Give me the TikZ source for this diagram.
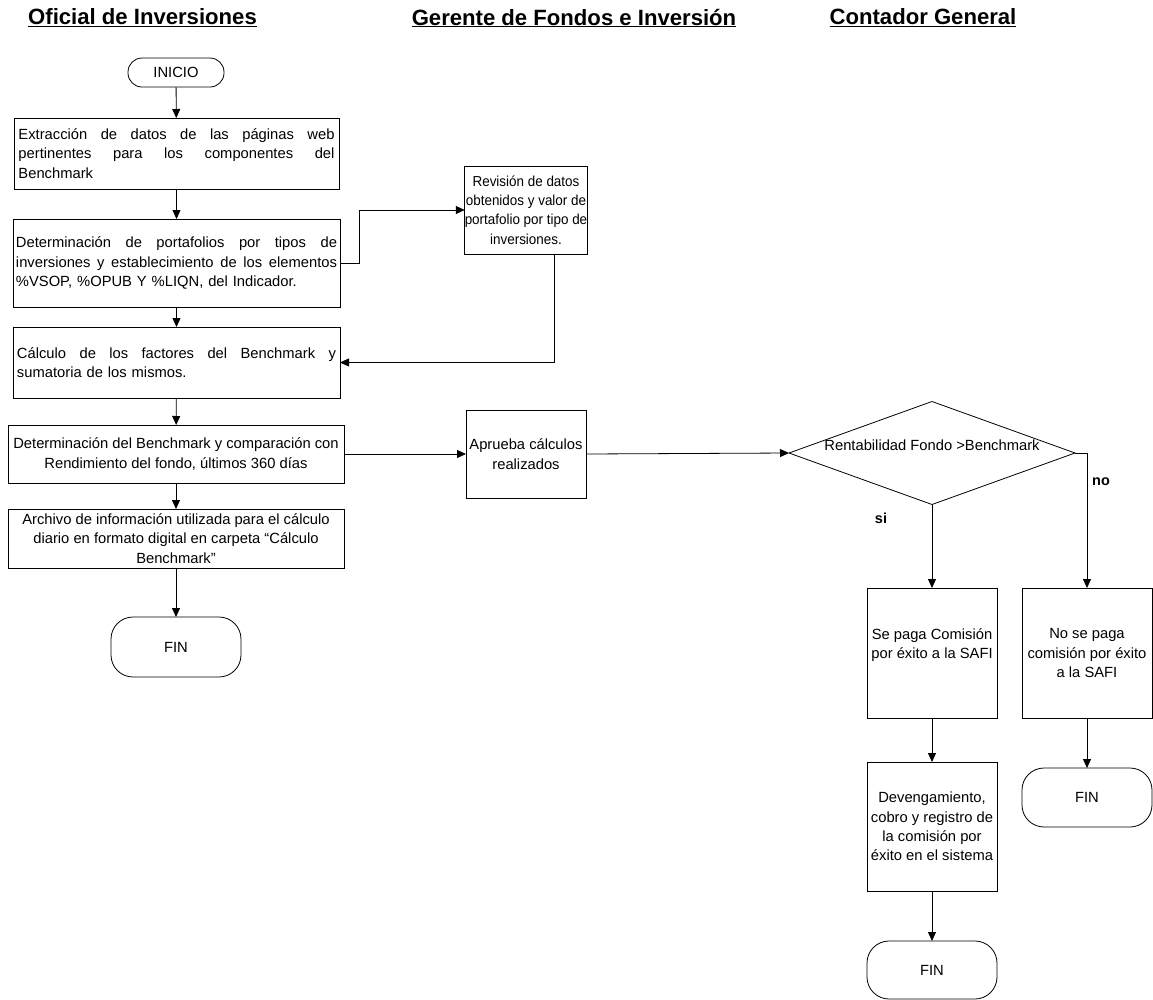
\documentclass[tikz,border=0pt]{standalone}
\usepackage{fontspec}
\setmainfont{Liberation Sans}
\newfontfamily\narrowfont[FakeStretch=0.93]{Liberation Sans}
\usetikzlibrary{arrows.meta,shapes.geometric}
\newcommand{\jl}[2]{\leavevmode\hbox to #1{#2}}
\begin{document}
\begin{tikzpicture}[x=1bp,y=-1bp,
  every node/.style={font=\fontsize{14.8}{19.5}\selectfont, inner sep=0pt, outer sep=0pt},
  title/.style={font=\fontsize{22.2}{24}\bfseries\selectfont},
  lbl/.style={font=\fontsize{14.5}{17}\bfseries\selectfont},
  box/.style={draw, line width=0.8bp, rectangle, align=center},
  term/.style={draw, line width=0.8bp, rectangle, rounded corners=#1},
  dia/.style={draw, line width=0.8bp, diamond},
  arr/.style={line width=0.8bp, -{Triangle[length=9bp,width=8bp]}},
  ln/.style={line width=0.8bp}
]
\useasboundingbox (0,0) rectangle (1153,1000);

% lane titles
\node[title] (t1) at (142.5,18) {\underline{Oficial de Inversiones}};
\node[title] (t2) at (574,18) {\underline{Gerente de Fondos e Inversión}};
\node[title] (t3) at (923,18) {\underline{Contador General}};

% left column
\node[term=14bp, minimum width=96bp, minimum height=29bp] (ini) at (176,72.5) {INICIO};
\node[box, minimum width=325bp, minimum height=71bp, text width=316bp, align=left] (b1) at (176.5,153.5)
  {\jl{316bp}{Extracción\hfill de\hfill datos\hfill de\hfill las\hfill páginas\hfill web}\\
   \jl{316bp}{pertinentes\hfill para\hfill los\hfill componentes\hfill del}\\ Benchmark};
\node[box, minimum width=327bp, minimum height=88bp, text width=321bp, align=left] (b2) at (176.5,263)
  {\jl{321bp}{Determinación\hfill de\hfill portafolios\hfill por\hfill tipos\hfill de}\\
   \jl{321bp}{inversiones\hfill y\hfill establecimiento\hfill de\hfill los\hfill elementos}\\
   \%VSOP, \%OPUB Y \%LIQN, del Indicador.};
\node[box, minimum width=327bp, minimum height=71bp, text width=319bp, align=left] (b3) at (176.5,362.5)
  {\jl{319bp}{Cálculo\hfill de\hfill los\hfill factores\hfill del\hfill Benchmark\hfill y}\\
   sumatoria de los mismos.};
\node[box, minimum width=336bp, minimum height=58bp] (b4) at (176,454)
  {Determinación del Benchmark y comparación con\\ Rendimiento del fondo, últimos 360 días};
\node[box, minimum width=336bp, minimum height=59bp] (b5) at (176,538.5)
  {Archivo de información utilizada para el cálculo\\ diario en formato digital en carpeta “Cálculo\\ Benchmark”};
\node[term=22bp, minimum width=130bp, minimum height=60bp] (fin1) at (176,647) {FIN};

% middle column
\node[box, minimum width=120bp, minimum height=88bp, font=\narrowfont\fontsize{14.5}{19.5}\selectfont] (rev) at (526,210)
  {Revisión de datos\\ obtenidos y valor de\\ portafolio por tipo de\\ inversiones.};
\node[box, minimum width=120bp, minimum height=88bp] (apr) at (526,454)
  {Aprueba cálculos\\ realizados};

% right column
\node[dia, minimum width=286bp, minimum height=103bp] (dec) at (932,453) {};
\node (dect) at (932,445) {Rentabilidad Fondo >Benchmark};
\node[box, minimum width=130bp, minimum height=130bp] (se) at (932,653)
  {Se paga Comisión\\ por éxito a la SAFI\\ \mbox{}};
\node[box, minimum width=130bp, minimum height=130bp] (no) at (1087,653)
  {No se paga\\ comisión por éxito\\ a la SAFI};
\node[box, minimum width=130bp, minimum height=129bp] (dev) at (932,826.5)
  {Devengamiento,\\ cobro y registro de\\ la comisión por\\ éxito en el sistema};
\node[term=22bp, minimum width=130bp, minimum height=59bp] (fin2) at (1087,797.5) {FIN};
\node[term=22bp, minimum width=130bp, minimum height=58bp] (fin3) at (932,970) {FIN};

\node[lbl] (si) at (881,518) {si};
\node[lbl] (nol) at (1101,482) {no};

% connectors
\draw[arr] (ini) -- (b1);
\draw[arr] (b1) -- (b2);
\draw[arr] (b2) -- (b3);
\draw[arr] (b3) -- (b4);
\draw[arr] (b4) -- (b5);
\draw[arr] (b5) -- (fin1);
\draw[arr] (b2.east) -- ++(19,0) |- (rev.west);
\draw[arr] ([xshift=28bp]rev.south) |- (b3.east);
\draw[arr] (b4.east) -- (apr.west);
\draw[arr] (apr.east) -- (dec.west);
\draw[arr] (dec.south) -- (se.north);
\draw[arr] (dec.east) -| (no.north);
\draw[arr] (se) -- (dev);
\draw[arr] (dev) -- (fin3);
\draw[arr] (no) -- (fin2);
\end{tikzpicture}
\end{document}
